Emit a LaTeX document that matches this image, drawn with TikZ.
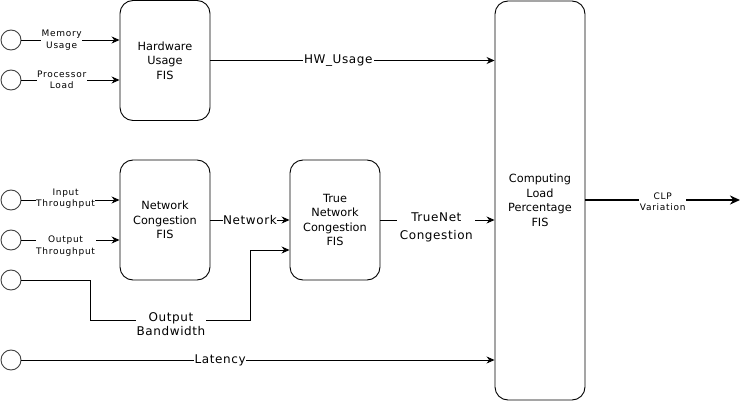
\documentclass[tikz,border=0pt]{standalone}
\usepackage{fontspec}
\setmainfont{DejaVu Sans}
\newfontfamily\widefont[LetterSpace=5]{DejaVu Sans}
\newfontfamily\tinyfont[LetterSpace=8]{DejaVu Sans}
\usetikzlibrary{arrows.meta}
\tikzstyle{fis}=[draw=black,rounded corners=13pt,line width=0.9pt,minimum width=90pt,minimum height=120pt,inner sep=0pt,align=center,font=\fontsize{11.3}{14.5}\selectfont]
\tikzstyle{src}=[circle,draw=black!75,line width=0.9pt,inner sep=0pt,minimum size=20pt]
\tikzstyle{small}=[fill=white,inner sep=0.5pt,align=center,font=\tinyfont\fontsize{9}{11.5}\selectfont]
\tikzstyle{big}=[fill=white,inner sep=1pt,align=center,font=\widefont\fontsize{12}{14}\selectfont]
\tikzstyle{wire}=[line width=0.9pt,-{Stealth[length=8pt,width=7pt]}]

\begin{document}
\begin{tikzpicture}[x=1pt,y=-1pt]
		\useasboundingbox (0,0) rectangle (750,401);
		\node (hw) at (165,60.5) [fis] {Hardware\\Usage\\FIS};
		\node (net) at (165,220) [fis] {Network\\Congestion\\FIS};
		\node (true) at (335,220) [fis] {True\\Network\\Congestion\\FIS};
		\node (clp) at (540,200.5) [fis,minimum height=399pt] {Computing\\Load\\Percentage\\FIS};
		
		\node (mem) at (11,40) [src] {};
		\node (proc) at (11,80) [src] {};
		\node (in) at (11,200) [src] {};
		\node (out) at (11,240) [src] {};
		\node (bw) at (11,280) [src] {};
		\node (lat) at (11,360) [src] {};
		\coordinate (end) at (740,200);
		
		\draw[wire] (mem) -- (hw.west |- mem) node[small,pos=0.41] {Memory\\Usage};
		\draw[wire] (proc) -- (hw.west |- proc) node[small,pos=0.41] {Processor\\Load};
		\draw[wire] (in) -- (net.west |- in) node[small,pos=0.45,yshift=1.5pt] {Input\\Throughput};
		\draw[wire] (out) -- (net.west |- out) node[small,pos=0.45,yshift=-6pt,minimum width=60pt] {Output\\Throughput};
		\draw[wire] (net) -- (true) node[big,midway,inner sep=0.5pt] {Network};
		\draw[wire] (bw) -- (90,280) -- (90,320) -- (250,320) -- (250,250) -- (true.west |- 0,250);
		\node (bwl) at (171,324) [big,minimum width=60pt] {Output\\Bandwidth};
		\draw[wire] (lat) -- (clp.west |- lat) node[big,pos=0.42,inner sep=0.5pt] {Latency};
		\draw[wire] (hw) -- (clp.west |- hw) node[big,pos=0.45] {HW\_Usage};
		\draw[wire] (true) -- (clp.west |- true) node[big,pos=0.49,yshift=-7pt,minimum width=78pt,font=\widefont\fontsize{12}{18}\selectfont] {TrueNet\\Congestion};
		\draw[line width=2pt,-{Stealth[length=10pt,width=9pt]}] (clp.east |- end) -- (end) node[small,pos=0.5,yshift=-1.5pt] {CLP\\Variation};
	\end{tikzpicture}
\end{document}
